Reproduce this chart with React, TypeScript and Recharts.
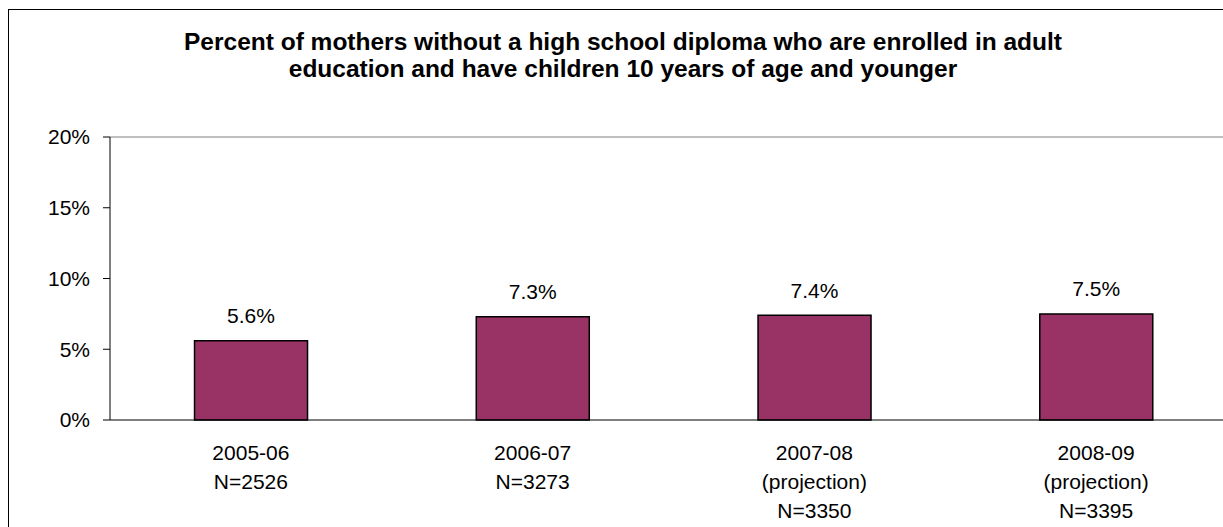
import React from "react";
import { BarChart, Bar, XAxis, YAxis, LabelList, ReferenceLine } from "recharts";

const periods = ["2005-06", "2006-07", "2007-08", "2008-09"];
const notes = ["", "", "(projection)", "(projection)"];
const sampleSizes = [2526, 3273, 3350, 3395];
const percents = [5.6, 7.3, 7.4, 7.5];
const yTicks = [0, 5, 10, 15, 20];
const edgeTicks = [0, 1, 2, 3, 4];

const titleLines = [
  "Percent of mothers without a high school diploma who are enrolled in adult",
  "education and have children 10 years of age and younger",
];

const data = periods.map((p, i) => ({
  period: p,
  note: notes[i],
  n: sampleSizes[i],
  pct: percents[i],
}));

const FONT = "Arial, 'Liberation Sans', sans-serif";

function CategoryTick(props: any) {
  const { x, y, payload } = props;
  const i = periods.indexOf(payload.value);
  const lines = [periods[i], notes[i], `N=${sampleSizes[i]}`].filter(Boolean);
  return (
    <g transform={`translate(${x},${y})`}>
      {lines.map((t, k) => (
        <text
          key={k}
          x={0}
          y={k * 29}
          dy="0.355em"
          textAnchor="middle"
          fontSize={21}
          fontFamily={FONT}
          fill="#000"
        >
          {t}
        </text>
      ))}
    </g>
  );
}

function ValueLabel(props: any) {
  const x = props.x ?? props.viewBox?.x;
  const y = props.y ?? props.viewBox?.y;
  const width = props.width ?? props.viewBox?.width;
  const value = Number(props.value);
  return (
    <text
      x={x + width / 2}
      y={y - 25}
      dy="0.355em"
      textAnchor="middle"
      fontSize={21}
      fontFamily={FONT}
      fill="#000"
    >
      {`${value.toFixed(1)}%`}
    </text>
  );
}

export default function App() {
  return (
    <div
      style={{
        position: "fixed",
        left: 0,
        top: 0,
        width: 1223,
        height: 527,
        overflow: "hidden",
        background: "#fff",
      }}
    >
      <svg
        width={1300}
        height={560}
        style={{ position: "absolute", left: 0, top: 0 }}
      >
        <rect x={8.5} y={9.5} width={1250} height={540} fill="none" stroke="#000" />
        {titleLines.map((t, i) => (
          <text
            key={i}
            x={623}
            y={50 + i * 27}
            textAnchor="middle"
            fontSize={24.5}
            fontWeight="bold"
            fontFamily={FONT}
            fill="#000"
          >
            {t}
          </text>
        ))}
      </svg>
      <div style={{ position: "absolute", left: 0, top: 0 }}>
        <BarChart
          width={1260}
          height={540}
          data={data}
          barCategoryGap="30%"
          margin={{ top: 137, right: 23, bottom: 29, left: 50 }}
        >
          <XAxis
            xAxisId={0}
            type="number"
            domain={[0, 4]}
            ticks={edgeTicks}
            tick={false}
            tickSize={6}
            height={1}
            axisLine={{ stroke: "#000" }}
            tickLine={{ stroke: "#000" }}
          />
          <XAxis
            xAxisId="cat"
            dataKey="period"
            height={90}
            interval={0}
            tickLine={false}
            axisLine={false}
            tickSize={0}
            tickMargin={32}
            tick={<CategoryTick />}
          />
          <YAxis
            width={60}
            domain={[0, 20]}
            ticks={yTicks}
            interval={0}
            tickSize={7}
            tickMargin={13}
            tickFormatter={(v: number) => `${v}%`}
            tick={{ fontSize: 21, fill: "#000", fontFamily: FONT }}
            axisLine={{ stroke: "#000" }}
            tickLine={{ stroke: "#000" }}
          />
          <ReferenceLine y={20} stroke="#808080" />
          <Bar
            xAxisId="cat"
            dataKey="pct"
            fill="#993366"
            stroke="#000"
            strokeWidth={1.5}
            isAnimationActive={false}
          >
            <LabelList dataKey="pct" content={<ValueLabel />} />
          </Bar>
        </BarChart>
      </div>
    </div>
  );
}
